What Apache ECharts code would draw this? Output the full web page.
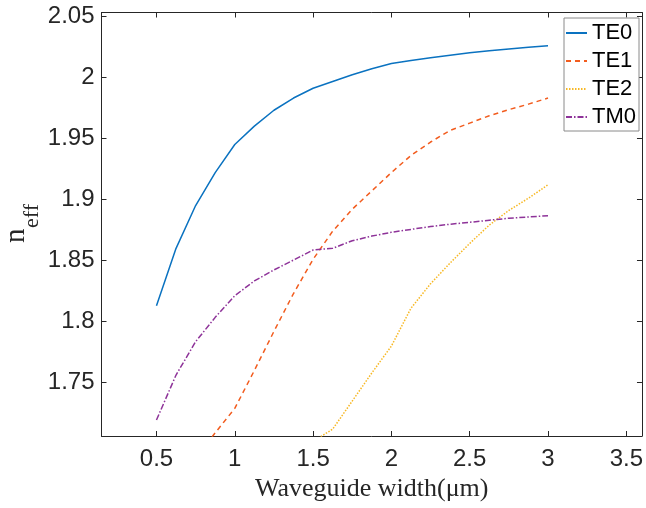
<!DOCTYPE html>
<html>
<head>
<meta charset="utf-8">
<title>Effective index vs waveguide width</title>
<script src="https://cdn.jsdelivr.net/npm/echarts@6/dist/echarts.min.js"></script>
<style>
  html, body { margin: 0; padding: 0; background: #ffffff; }
  #chart { width: 646px; height: 508px; }
</style>
</head>
<body>
<div id="chart"></div>
<script>
// Waveguide widths (µm) at which the modes were solved
const widths = [0.5, 0.625, 0.75, 0.875, 1.0, 1.125, 1.25, 1.375, 1.5, 1.625, 1.75,
                1.875, 2.0, 2.125, 2.25, 2.375, 2.5, 2.625, 2.75, 2.875, 3.0];

// Effective indices per mode (null = mode not guided / not computed)
const te0 = [1.813, 1.860, 1.895, 1.922, 1.945, 1.960, 1.973, 1.983, 1.991, 1.9965, 2.002,
             2.007, 2.0113, 2.0138, 2.016, 2.018, 2.020, 2.0217, 2.0232, 2.0246, 2.0258];
const te1 = [null, null, 1.688, 1.709, 1.729, 1.760, 1.792, 1.823, 1.851, 1.874, 1.892,
             1.907, 1.922, 1.936, 1.947, 1.9565, 1.9625, 1.9685, 1.9735, 1.978, 1.983];
const te2 = [null, null, null, null, null, null, null, null, 1.702, 1.712, 1.735,
             1.758, 1.780, 1.811, 1.831, 1.848, 1.864, 1.879, 1.891, 1.901, 1.912];
const tm0 = [1.7195, 1.7563, 1.7836, 1.8035, 1.8212, 1.8333, 1.8423, 1.8504, 1.8586, 1.8600, 1.8662,
             1.8700, 1.8731, 1.8755, 1.8778, 1.8797, 1.8813, 1.8830, 1.8846, 1.8857, 1.8867];

const modeNames = ['TE0', 'TE1', 'TE2', 'TM0'];

// Tick positions and axis limits
const xTicks = [0.5, 1, 1.5, 2, 2.5, 3, 3.5];
const yTicks = [1.75, 1.8, 1.85, 1.9, 1.95, 2, 2.05];
const xLimits = [0.149, 3.6];
const yLimits = [1.7064, 2.053];

const axisColor = '#262626';
const tickLen = 5;
const sansFont = "'Liberation Sans', Arial, Helvetica, sans-serif";
const serifFont = "'Liberation Serif', 'Times New Roman', serif";

function pairs(arr) {
  return widths.map((w, i) => [w, arr[i]]);
}

// One side of the axes box: line plus inward ticks at the given values
function boxAxis(ticks, extra) {
  return Object.assign({
    type: 'value',
    axisLine: { show: true, onZero: false, lineStyle: { color: axisColor, width: 1 } },
    axisTick: { show: true, inside: true, length: tickLen, customValues: ticks,
                lineStyle: { color: axisColor, width: 1 } },
    splitLine: { show: false }
  }, extra);
}

const chart = echarts.init(document.getElementById('chart'), null, { renderer: 'canvas' });

chart.setOption({
  backgroundColor: '#ffffff',
  animation: false,
  grid: { left: 101.5, right: 2.5, top: 12.5, bottom: 72, containLabel: false },
  xAxis: [
    boxAxis(xTicks, {
      position: 'bottom', min: xLimits[0], max: xLimits[1],
      axisLabel: { show: true, customValues: xTicks, margin: 11, color: axisColor, fontSize: 24, fontFamily: sansFont },
      name: 'Waveguide width(μm)', nameLocation: 'middle', nameGap: 37,
      nameTextStyle: { color: axisColor, fontSize: 26, fontFamily: serifFont }
    }),
    boxAxis(xTicks, {
      position: 'top', min: xLimits[0], max: xLimits[1],
      axisLabel: { show: false }
    })
  ],
  yAxis: [
    boxAxis(yTicks, {
      position: 'left', min: yLimits[0], max: yLimits[1],
      axisLabel: { show: true, customValues: yTicks, margin: 7, color: axisColor, fontSize: 24, fontFamily: sansFont }
    }),
    boxAxis(yTicks, {
      position: 'right', min: yLimits[0], max: yLimits[1],
      axisLabel: { show: false }
    })
  ],
  legend: {
    orient: 'vertical',
    left: 564, top: 18,
    padding: [4, 3, 3, 1],
    itemWidth: 21, itemHeight: 10, itemGap: 6,
    backgroundColor: '#ffffff',
    borderColor: '#8a8a8a', borderWidth: 1, borderRadius: 0,
    itemStyle: { color: 'rgba(0,0,0,0)', borderWidth: 0, opacity: 0 },
    textStyle: { color: '#000000', fontSize: 22, fontFamily: sansFont },
    data: modeNames
  },
  // Y-axis title n_eff, drawn as two rotated text pieces
  graphic: [
    {
      type: 'text', x: 16, y: 243, rotation: Math.PI / 2,
      style: { text: 'n', x: 0, y: 0, align: 'left', verticalAlign: 'middle',
               fill: axisColor, font: '29px ' + serifFont }
    },
    {
      type: 'text', x: 32.5, y: 228, rotation: Math.PI / 2,
      style: { text: 'eff', x: 0, y: 0, align: 'left', verticalAlign: 'middle',
               fill: axisColor, font: '22px ' + serifFont }
    }
  ],
  series: [
    {
      name: modeNames[0], type: 'line', data: pairs(te0), showSymbol: false, symbol: 'none',
      clip: true, lineStyle: { color: '#0a72c0', width: 1.5, type: 'solid' }, itemStyle: { color: '#0a72c0' }
    },
    {
      name: modeNames[1], type: 'line', data: pairs(te1), showSymbol: false, symbol: 'none',
      clip: true, lineStyle: { color: '#f25c1e', width: 1.5, type: [5, 4] }, itemStyle: { color: '#f25c1e' }
    },
    {
      name: modeNames[2], type: 'line', data: pairs(te2), showSymbol: false, symbol: 'none',
      clip: true, lineStyle: { color: '#f7b824', width: 1.5, type: [1.5, 1.5] }, itemStyle: { color: '#f7b824' }
    },
    {
      name: modeNames[3], type: 'line', data: pairs(tm0), showSymbol: false, symbol: 'none',
      clip: true, lineStyle: { color: '#8e3399', width: 1.5, type: [6, 2, 1.5, 2] }, itemStyle: { color: '#8e3399' }
    }
  ]
});
</script>
</body>
</html>
